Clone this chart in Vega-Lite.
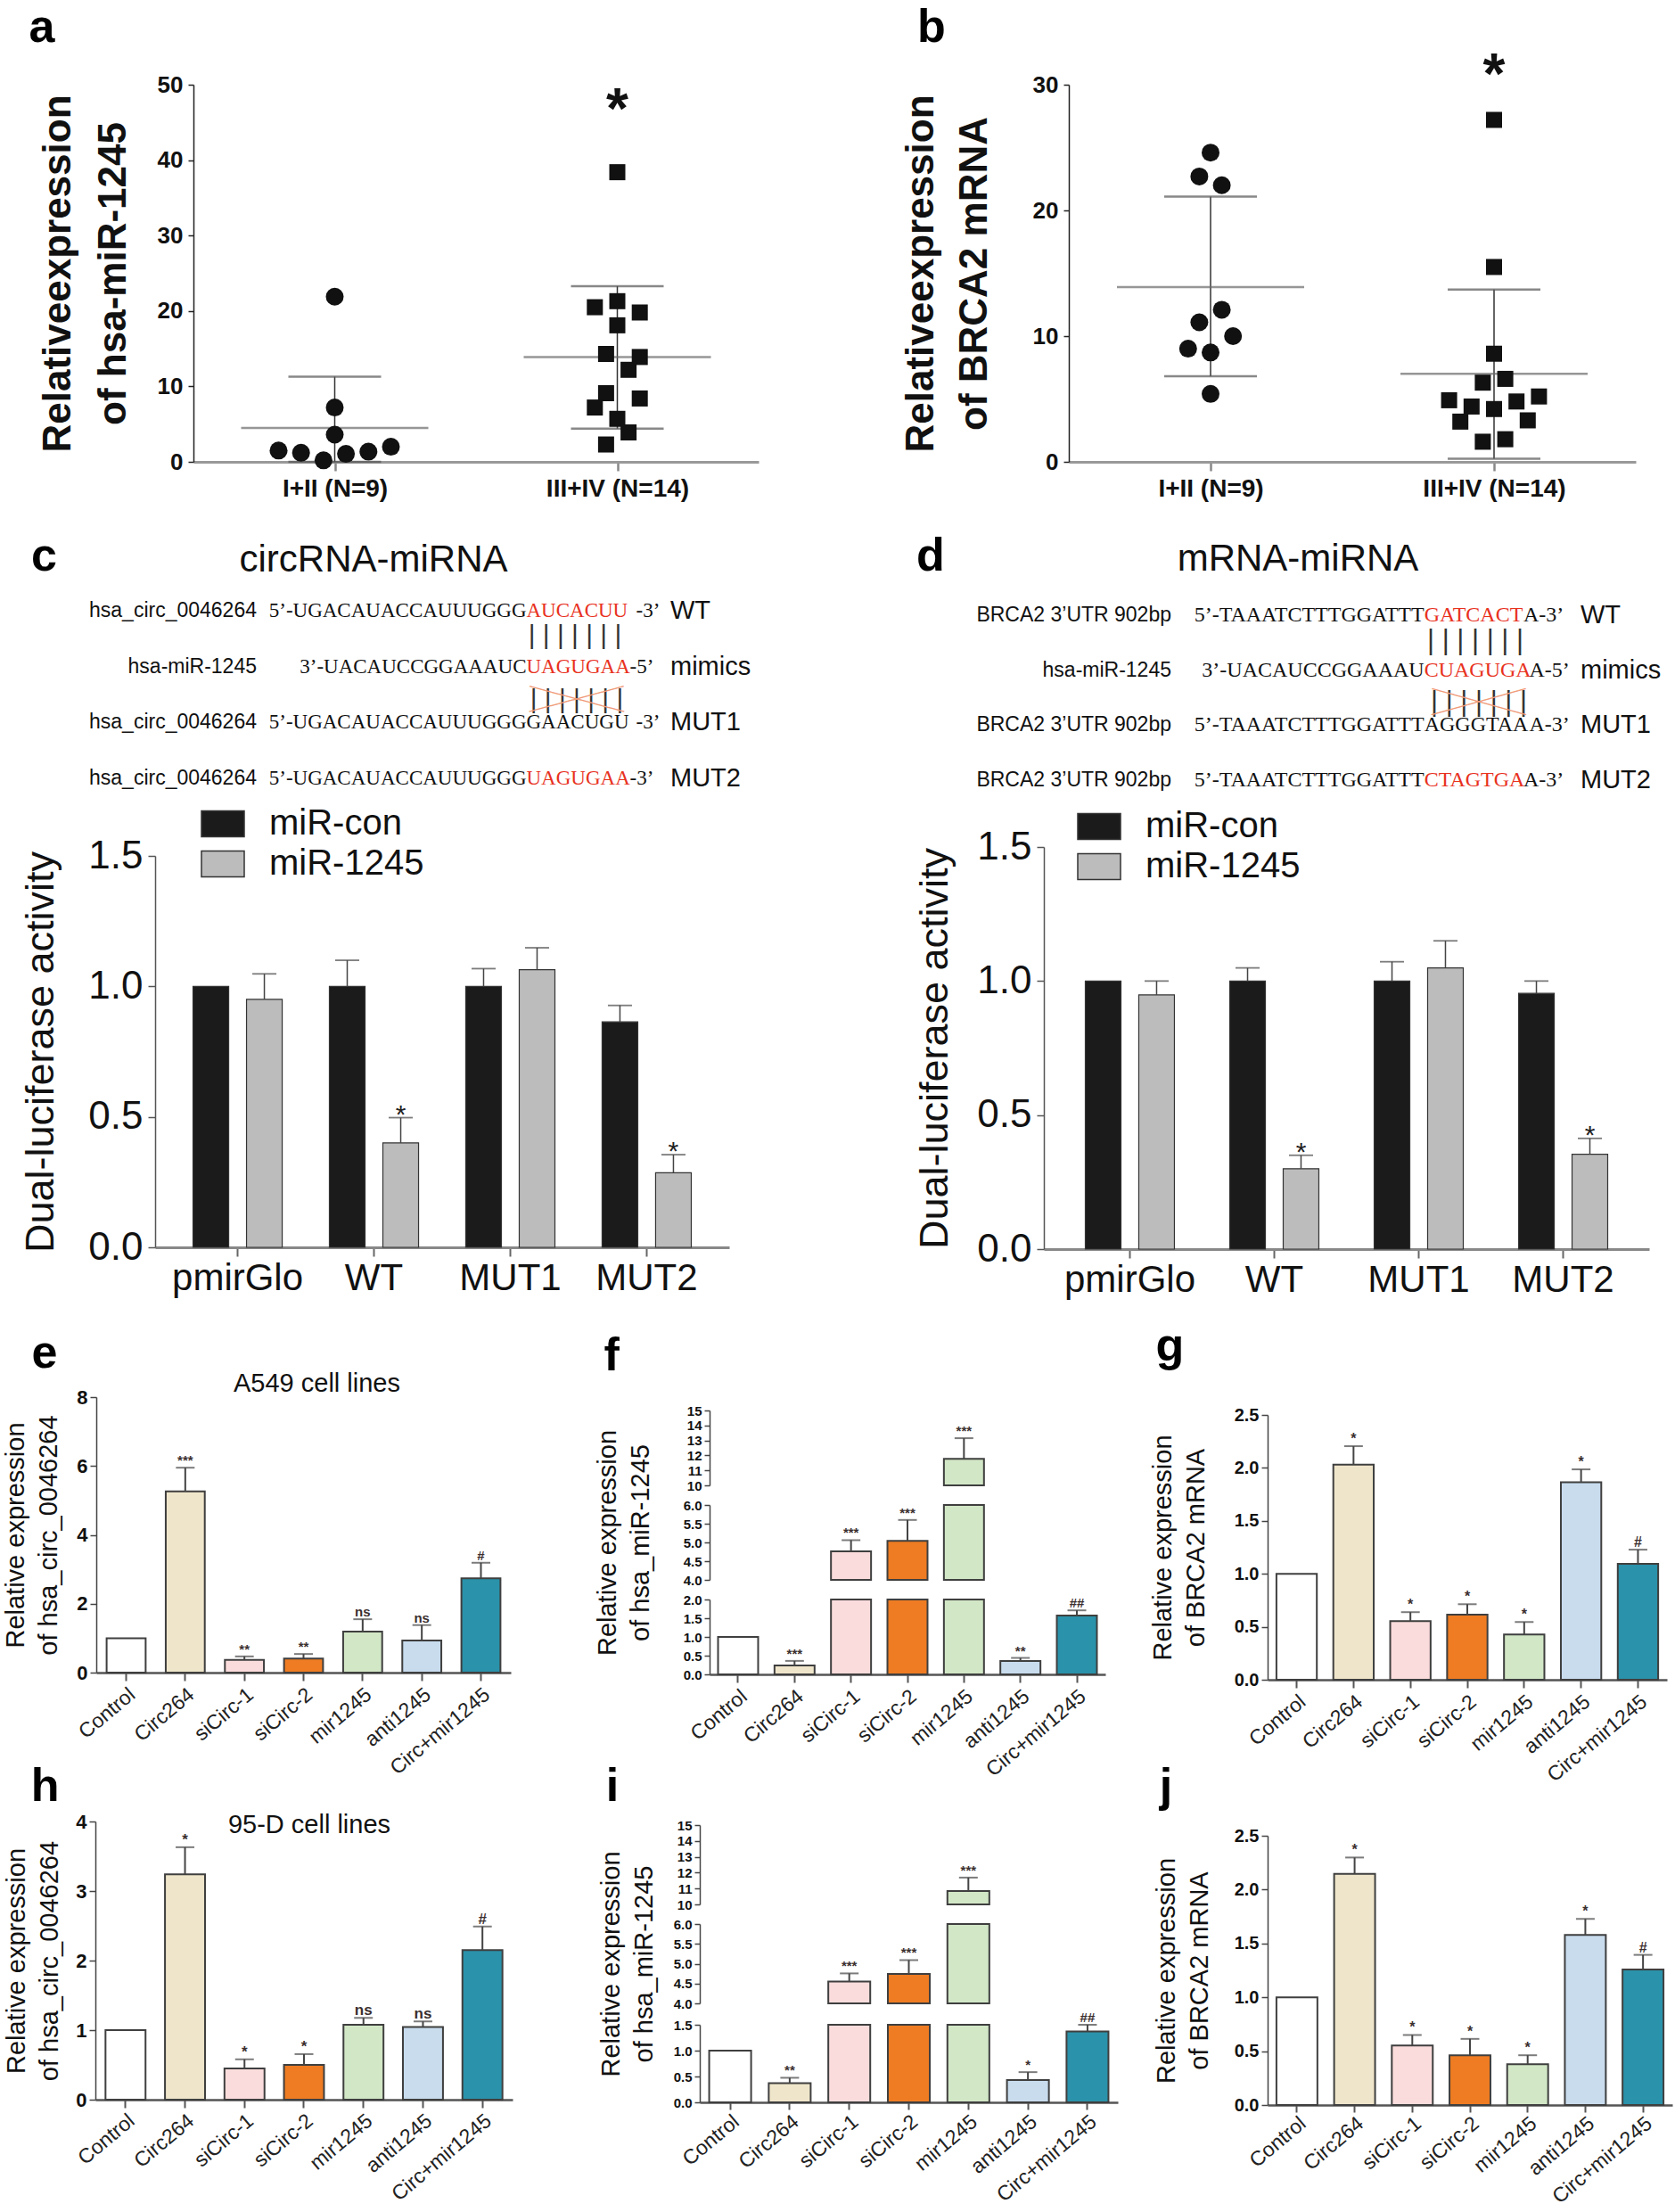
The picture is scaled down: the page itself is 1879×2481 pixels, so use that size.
{
"$schema": "https://vega.github.io/schema/vega-lite/v6.json",
"background": "white",
"padding": 0,
"autosize": {"type": "none"},
"width": 1879,
"height": 2481,
"config": {
  "view": {"stroke": null},
  "axis": {"grid": false, "labelFont": "Liberation Sans", "titleFont": "Liberation Sans", "labelColor": "#111", "titleColor": "#111"},
  "text": {"font": "Liberation Sans"},
  "legend": {"labelFont": "Liberation Sans"}
},
"datasets": {
  "a": [
    {"grp":"I+II (N=9)","dx":0,"v":21.9},{"grp":"I+II (N=9)","dx":0,"v":7.2},{"grp":"I+II (N=9)","dx":0,"v":3.6},
    {"grp":"I+II (N=9)","dx":-5,"v":1.5},{"grp":"I+II (N=9)","dx":-3,"v":1.2},{"grp":"I+II (N=9)","dx":-1,"v":0.2},
    {"grp":"I+II (N=9)","dx":1,"v":1.05},{"grp":"I+II (N=9)","dx":3,"v":1.35},{"grp":"I+II (N=9)","dx":5,"v":2.0},
    {"grp":"III+IV (N=14)","dx":0,"v":38.4},{"grp":"III+IV (N=14)","dx":-2,"v":20.5},{"grp":"III+IV (N=14)","dx":0,"v":21.3},
    {"grp":"III+IV (N=14)","dx":2,"v":19.8},{"grp":"III+IV (N=14)","dx":0,"v":18.1},{"grp":"III+IV (N=14)","dx":-1,"v":14.3},
    {"grp":"III+IV (N=14)","dx":2,"v":13.9},{"grp":"III+IV (N=14)","dx":1,"v":12.2},{"grp":"III+IV (N=14)","dx":-1,"v":9.1},
    {"grp":"III+IV (N=14)","dx":2,"v":8.4},{"grp":"III+IV (N=14)","dx":-2,"v":7.2},{"grp":"III+IV (N=14)","dx":0,"v":5.7},
    {"grp":"III+IV (N=14)","dx":1,"v":3.9},{"grp":"III+IV (N=14)","dx":-1,"v":2.3}
  ],
  "aS": [
    {"grp":"I+II (N=9)","mean":4.5,"lo":0,"hi":11.3},
    {"grp":"III+IV (N=14)","mean":13.9,"lo":4.4,"hi":23.3}
  ],
  "b": [
    {"grp":"I+II (N=9)","dx":0,"v":24.6},{"grp":"I+II (N=9)","dx":-1,"v":22.7},{"grp":"I+II (N=9)","dx":1,"v":22.0},
    {"grp":"I+II (N=9)","dx":1,"v":12.1},{"grp":"I+II (N=9)","dx":-1,"v":11.1},{"grp":"I+II (N=9)","dx":2,"v":10.0},
    {"grp":"I+II (N=9)","dx":-2,"v":9.0},{"grp":"I+II (N=9)","dx":0,"v":8.7},{"grp":"I+II (N=9)","dx":0,"v":5.4},
    {"grp":"III+IV (N=14)","dx":0,"v":27.2},{"grp":"III+IV (N=14)","dx":0,"v":15.5},{"grp":"III+IV (N=14)","dx":0,"v":8.6},
    {"grp":"III+IV (N=14)","dx":-1,"v":6.3},{"grp":"III+IV (N=14)","dx":1,"v":6.6},{"grp":"III+IV (N=14)","dx":-4,"v":4.9},
    {"grp":"III+IV (N=14)","dx":-2,"v":4.4},{"grp":"III+IV (N=14)","dx":0,"v":4.2},{"grp":"III+IV (N=14)","dx":2,"v":4.8},
    {"grp":"III+IV (N=14)","dx":4,"v":5.2},{"grp":"III+IV (N=14)","dx":-3,"v":3.2},{"grp":"III+IV (N=14)","dx":3,"v":3.3},
    {"grp":"III+IV (N=14)","dx":-1,"v":1.6},{"grp":"III+IV (N=14)","dx":1,"v":1.8}
  ],
  "bS": [
    {"grp":"I+II (N=9)","mean":13.9,"lo":6.8,"hi":21.1},
    {"grp":"III+IV (N=14)","mean":7.0,"lo":0.25,"hi":13.7}
  ],
  "c": [
    {"g":"pmirGlo","cond":"miR-con","v":1.0,"hi":1.0,"sig":""},
    {"g":"pmirGlo","cond":"miR-1245","v":0.95,"hi":1.048,"sig":""},
    {"g":"WT","cond":"miR-con","v":1.0,"hi":1.1,"sig":""},
    {"g":"WT","cond":"miR-1245","v":0.4,"hi":0.497,"sig":"*"},
    {"g":"MUT1","cond":"miR-con","v":1.0,"hi":1.068,"sig":""},
    {"g":"MUT1","cond":"miR-1245","v":1.064,"hi":1.148,"sig":""},
    {"g":"MUT2","cond":"miR-con","v":0.864,"hi":0.927,"sig":""},
    {"g":"MUT2","cond":"miR-1245","v":0.286,"hi":0.355,"sig":"*"}
  ],
  "d": [
    {"g":"pmirGlo","cond":"miR-con","v":1.0,"hi":1.0,"sig":""},
    {"g":"pmirGlo","cond":"miR-1245","v":0.948,"hi":1.0,"sig":""},
    {"g":"WT","cond":"miR-con","v":1.0,"hi":1.049,"sig":""},
    {"g":"WT","cond":"miR-1245","v":0.3,"hi":0.35,"sig":"*"},
    {"g":"MUT1","cond":"miR-con","v":1.0,"hi":1.072,"sig":""},
    {"g":"MUT1","cond":"miR-1245","v":1.049,"hi":1.15,"sig":""},
    {"g":"MUT2","cond":"miR-con","v":0.954,"hi":1.0,"sig":""},
    {"g":"MUT2","cond":"miR-1245","v":0.354,"hi":0.413,"sig":"*"}
  ],
  "seqC": [
    {"row":"WT","label":"hsa_circ_0046264","pre":"5’-UGACAUACCAUUUGGG","mid":"AUCACUU","post":"-3’","tag":"WT","kind":"seed"},
    {"row":"mimics","label":"hsa-miR-1245","pre":"3’-UACAUCCGGAAAUC","mid":"UAGUGAA","post":"-5’","tag":"mimics","kind":"seed"},
    {"row":"MUT1","label":"hsa_circ_0046264","pre":"5’-UGACAUACCAUUUGGG","mid":"GAACUGU","post":"-3’","tag":"MUT1","kind":"mutant"},
    {"row":"MUT2","label":"hsa_circ_0046264","pre":"5’-UGACAUACCAUUUGGG","mid":"UAGUGAA","post":"-3’","tag":"MUT2","kind":"seed"}
  ],
  "seqD": [
    {"row":"WT","label":"BRCA2 3’UTR 902bp","pre":"5’-TAAATCTTTGGATTT","mid":"GATCACT","post":"A-3’","tag":"WT","kind":"seed"},
    {"row":"mimics","label":"hsa-miR-1245","pre":"3’-UACAUCCGGAAAU","mid":"CUAGUGA","post":"A-5’","tag":"mimics","kind":"seed"},
    {"row":"MUT1","label":"BRCA2 3’UTR 902bp","pre":"5’-TAAATCTTTGGATTT","mid":"AGGGTAA","post":"A-3’","tag":"MUT1","kind":"mutant"},
    {"row":"MUT2","label":"BRCA2 3’UTR 902bp","pre":"5’-TAAATCTTTGGATTT","mid":"CTAGTGA","post":"A-3’","tag":"MUT2","kind":"seed"}
  ],
  "e": [
    {"g":"Control","v":1.0,"hi":1.0,"sig":""},{"g":"Circ264","v":5.26,"hi":5.95,"sig":"***"},
    {"g":"siCirc-1","v":0.37,"hi":0.47,"sig":"**"},{"g":"siCirc-2","v":0.41,"hi":0.54,"sig":"**"},
    {"g":"mir1245","v":1.19,"hi":1.55,"sig":"ns"},{"g":"anti1245","v":0.93,"hi":1.38,"sig":"ns"},
    {"g":"Circ+mir1245","v":2.74,"hi":3.19,"sig":"#"}
  ],
  "f": [
    {"g":"Control","v":1.0,"hi":1.0,"sig":""},{"g":"Circ264","v":0.24,"hi":0.36,"sig":"***"},
    {"g":"siCirc-1","v":4.76,"hi":5.06,"sig":"***"},{"g":"siCirc-2","v":5.04,"hi":5.6,"sig":"***"},
    {"g":"mir1245","v":11.77,"hi":13.15,"sig":"***"},{"g":"anti1245","v":0.36,"hi":0.44,"sig":"**"},
    {"g":"Circ+mir1245","v":1.57,"hi":1.71,"sig":"##"}
  ],
  "g": [
    {"g":"Control","v":1.0,"hi":1.0,"sig":""},{"g":"Circ264","v":2.03,"hi":2.205,"sig":"*"},
    {"g":"siCirc-1","v":0.553,"hi":0.638,"sig":"*"},{"g":"siCirc-2","v":0.615,"hi":0.713,"sig":"*"},
    {"g":"mir1245","v":0.427,"hi":0.545,"sig":"*"},{"g":"anti1245","v":1.865,"hi":1.986,"sig":"*"},
    {"g":"Circ+mir1245","v":1.095,"hi":1.228,"sig":"#"}
  ],
  "h": [
    {"g":"Control","v":1.0,"hi":1.0,"sig":""},{"g":"Circ264","v":3.24,"hi":3.63,"sig":"*"},
    {"g":"siCirc-1","v":0.45,"hi":0.58,"sig":"*"},{"g":"siCirc-2","v":0.5,"hi":0.655,"sig":"*"},
    {"g":"mir1245","v":1.078,"hi":1.176,"sig":"ns"},{"g":"anti1245","v":1.044,"hi":1.125,"sig":"ns"},
    {"g":"Circ+mir1245","v":2.15,"hi":2.49,"sig":"#"}
  ],
  "i": [
    {"g":"Control","v":1.0,"hi":1.0,"sig":""},{"g":"Circ264","v":0.37,"hi":0.475,"sig":"**"},
    {"g":"siCirc-1","v":4.55,"hi":4.755,"sig":"***"},{"g":"siCirc-2","v":4.74,"hi":5.09,"sig":"***"},
    {"g":"mir1245","v":10.84,"hi":11.69,"sig":"***"},{"g":"anti1245","v":0.43,"hi":0.584,"sig":"*"},
    {"g":"Circ+mir1245","v":1.37,"hi":1.5,"sig":"##"}
  ],
  "j": [
    {"g":"Control","v":1.0,"hi":1.0,"sig":""},{"g":"Circ264","v":2.146,"hi":2.298,"sig":"*"},
    {"g":"siCirc-1","v":0.553,"hi":0.65,"sig":"*"},{"g":"siCirc-2","v":0.462,"hi":0.614,"sig":"*"},
    {"g":"mir1245","v":0.379,"hi":0.462,"sig":"*"},{"g":"anti1245","v":1.579,"hi":1.728,"sig":"*"},
    {"g":"Circ+mir1245","v":1.258,"hi":1.394,"sig":"#"}
  ]
},
"resolve": {"scale": {"x":"independent","y":"independent","fill":"independent","shape":"independent","size":"independent","xOffset":"independent"}, "axis": {"x":"independent","y":"independent"}, "legend": {"fill":"independent"}},
"layer": [
{
  "layer": [
    {"data":{"name":"aS"},"mark":{"type":"rule","color":"#333","strokeWidth":1.5},
     "encoding":{
       "x":{"field":"grp","type":"nominal","scale":{"type":"point","domain":["I+II (N=9)","III+IV (N=14)"],"range":[217,851],"padding":0.5},
            "axis":{"orient":"bottom","offset":-1963,"title":null,"labelFontSize":28,"labelFontWeight":"bold","labelAngle":0,"labelPadding":6,"labelLimit":400,"tickSize":10,"tickWidth":2.5,"tickColor":"#888","domainColor":"#999","domainWidth":3}},
       "y":{"field":"lo","type":"quantitative","scale":{"domain":[0,50],"range":[518,95],"nice":false},
            "axis":{"orient":"left","offset":-217,"title":["Relativeexpression","of hsa-miR-1245"],"titleFontSize":44,"titleFontWeight":"bold","titleLineHeight":62,"titlePadding":24,"minExtent":44,"maxExtent":44,"values":[0,10,20,30,40,50],"format":"d","labelFontSize":26,"labelFontWeight":"bold","labelPadding":6,"tickSize":6,"tickWidth":1.5,"tickColor":"#222","domainColor":"#222","domainWidth":1.5}},
       "y2":{"field":"hi"}}},
    {"data":{"name":"aS"},"mark":{"type":"tick","color":"#555","size":104,"thickness":2.5},"encoding":{"x":{"field":"grp","type":"nominal"},"y":{"field":"lo","type":"quantitative"}}},
    {"data":{"name":"aS"},"mark":{"type":"tick","color":"#555","size":104,"thickness":2.5},"encoding":{"x":{"field":"grp","type":"nominal"},"y":{"field":"hi","type":"quantitative"}}},
    {"data":{"name":"aS"},"mark":{"type":"tick","color":"#6a6a6a","size":210,"thickness":2.5},"encoding":{"x":{"field":"grp","type":"nominal"},"y":{"field":"mean","type":"quantitative"}}},
    {"data":{"name":"a"},"mark":{"type":"point","filled":true,"opacity":1,"color":"#111"},
     "encoding":{"x":{"field":"grp","type":"nominal"},
       "xOffset":{"field":"dx","type":"quantitative","scale":{"domain":[-5,5],"range":[-63,63]}},
       "y":{"field":"v","type":"quantitative"},
       "shape":{"field":"grp","type":"nominal","scale":{"domain":["I+II (N=9)","III+IV (N=14)"],"range":["circle","square"]},"legend":null},
       "size":{"field":"grp","type":"nominal","scale":{"domain":["I+II (N=9)","III+IV (N=14)"],"range":[400,324]},"legend":null}}},
    {"data":{"values":[{"s":"*"}]},"mark":{"type":"text","fontSize":64,"fontWeight":"bold","baseline":"alphabetic","color":"#111"},
     "encoding":{"x":{"datum":"III+IV (N=14)","type":"nominal"},"y":{"datum":44.2,"type":"quantitative"},"text":{"field":"s"}}},
    {"data":{"values":[{"s":"a"}]},"mark":{"type":"text","fontSize":52,"fontWeight":"bold","align":"left","baseline":"alphabetic","dx":-343,"dy":-48,"color":"#000"},
     "encoding":{"x":{"datum":"I+II (N=9)","type":"nominal"},"y":{"datum":50,"type":"quantitative"},"text":{"field":"s"}}}
  ]
},
{
  "layer": [
    {"data":{"name":"bS"},"mark":{"type":"rule","color":"#333","strokeWidth":1.5},
     "encoding":{
       "x":{"field":"grp","type":"nominal","scale":{"type":"point","domain":["I+II (N=9)","III+IV (N=14)"],"range":[1199,1835],"padding":0.5},
            "axis":{"orient":"bottom","offset":-1963,"title":null,"labelFontSize":28,"labelFontWeight":"bold","labelAngle":0,"labelPadding":6,"labelLimit":400,"tickSize":10,"tickWidth":2.5,"tickColor":"#888","domainColor":"#999","domainWidth":3}},
       "y":{"field":"lo","type":"quantitative","scale":{"domain":[0,30],"range":[518,95],"nice":false},
            "axis":{"orient":"left","offset":-1199,"title":["Relativeexpression","of BRCA2 mRNA"],"titleFontSize":44,"titleFontWeight":"bold","titleLineHeight":60,"titlePadding":40,"minExtent":44,"maxExtent":44,"values":[0,10,20,30],"format":"d","labelFontSize":26,"labelFontWeight":"bold","labelPadding":6,"tickSize":6,"tickWidth":1.5,"tickColor":"#222","domainColor":"#222","domainWidth":1.5}},
       "y2":{"field":"hi"}}},
    {"data":{"name":"bS"},"mark":{"type":"tick","color":"#555","size":104,"thickness":2.5},"encoding":{"x":{"field":"grp","type":"nominal"},"y":{"field":"lo","type":"quantitative"}}},
    {"data":{"name":"bS"},"mark":{"type":"tick","color":"#555","size":104,"thickness":2.5},"encoding":{"x":{"field":"grp","type":"nominal"},"y":{"field":"hi","type":"quantitative"}}},
    {"data":{"name":"bS"},"mark":{"type":"tick","color":"#6a6a6a","size":210,"thickness":2.5},"encoding":{"x":{"field":"grp","type":"nominal"},"y":{"field":"mean","type":"quantitative"}}},
    {"data":{"name":"b"},"mark":{"type":"point","filled":true,"opacity":1,"color":"#111"},
     "encoding":{"x":{"field":"grp","type":"nominal"},
       "xOffset":{"field":"dx","type":"quantitative","scale":{"domain":[-5,5],"range":[-63,63]}},
       "y":{"field":"v","type":"quantitative"},
       "shape":{"field":"grp","type":"nominal","scale":{"domain":["I+II (N=9)","III+IV (N=14)"],"range":["circle","square"]},"legend":null},
       "size":{"field":"grp","type":"nominal","scale":{"domain":["I+II (N=9)","III+IV (N=14)"],"range":[400,324]},"legend":null}}},
    {"data":{"values":[{"s":"*"}]},"mark":{"type":"text","fontSize":64,"fontWeight":"bold","baseline":"alphabetic","color":"#111"},
     "encoding":{"x":{"datum":"III+IV (N=14)","type":"nominal"},"y":{"datum":29.3,"type":"quantitative"},"text":{"field":"s"}}},
    {"data":{"values":[{"s":"b"}]},"mark":{"type":"text","fontSize":52,"fontWeight":"bold","align":"left","baseline":"alphabetic","dx":-329,"dy":-48,"color":"#000"},
     "encoding":{"x":{"datum":"I+II (N=9)","type":"nominal"},"y":{"datum":30,"type":"quantitative"},"text":{"field":"s"}}}
  ]
},
{
  "resolve": {"scale": {"y":"independent"}, "axis": {"y":"independent"}},
  "layer": [
    {
      "data": {"name":"c"},
      "encoding": {
        "x":{"field":"g","type":"nominal","scale":{"domain":["pmirGlo","WT","MUT1","MUT2"],"range":[174,818],"paddingInner":0.346,"paddingOuter":0.278},
             "axis":{"orient":"bottom","offset":-1082,"title":null,"labelAngle":0,"labelFontSize":42,"labelPadding":4,"labelOverlap":false,"labelLimit":400,"tickSize":10,"tickWidth":2,"tickColor":"#666","domainColor":"#888","domainWidth":3}},
        "xOffset":{"field":"cond","type":"nominal","scale":{"domain":["miR-con","miR-1245"],"paddingInner":0.333,"paddingOuter":0}},
        "y":{"field":"v","type":"quantitative","scale":{"domain":[0,1.5],"range":[1399,960],"nice":false},
             "axis":{"orient":"left","offset":-174,"title":"Dual-luciferase activity","titleFontSize":45,"titleFontWeight":"normal","titlePadding":26,"minExtent":80,"maxExtent":80,"values":[0,0.5,1,1.5],"format":".1f","labelFontSize":44,"labelPadding":6,"tickSize":8,"tickWidth":1.5,"tickColor":"#555","domainColor":"#555","domainWidth":1.5}}
      },
      "layer": [
        {"mark":{"type":"bar","stroke":"#333","strokeWidth":1.2},
         "encoding":{"fill":{"field":"cond","type":"nominal","scale":{"domain":["miR-con","miR-1245"],"range":["#1b1b1b","#bcbcbc"]},
           "legend":{"title":null,"orient":"none","legendX":225,"legendY":899,"symbolType":"M-1,-0.6H1V0.6H-1Z","symbolSize":2304,"symbolStrokeColor":"#333","symbolStrokeWidth":1.5,"symbolOpacity":1,"labelFontSize":40,"labelLimit":400,"labelOffset":27,"rowPadding":0,"padding":0,"labelColor":"#111"}}}},
        {"transform":[{"filter":"datum.hi > datum.v"}],"mark":{"type":"rule","color":"#444","strokeWidth":1.5},"encoding":{"y2":{"field":"hi"}}},
        {"transform":[{"filter":"datum.hi > datum.v"}],"mark":{"type":"tick","color":"#444","size":27,"thickness":1.8},"encoding":{"y":{"field":"hi","type":"quantitative"}}},
        {"mark":{"type":"text","fontSize":30,"baseline":"alphabetic","dy":6,"color":"#222"},"encoding":{"y":{"field":"hi","type":"quantitative"},"text":{"field":"sig"}}}
      ]
    },
    {
      "data": {"name":"seqC"},
      "encoding": {"y":{"field":"row","type":"nominal","scale":{"type":"point","domain":["WT","mimics","MUT1","MUT2"],"range":[685,873],"padding":0},"axis":null}},
      "layer": [
        {"mark":{"type":"text","align":"right","baseline":"middle","dx":-651.5,"fontSize":23,"color":"#111"},"encoding":{"text":{"field":"label"}}},
        {"mark":{"type":"text","align":"right","baseline":"middle","dx":-349,"fontSize":23,"font":"Liberation Serif","color":"#111"},"encoding":{"text":{"field":"pre"}}},
        {"mark":{"type":"text","align":"left","baseline":"middle","dx":-349,"fontSize":23,"font":"Liberation Serif"},"encoding":{"text":{"field":"mid"},"color":{"field":"kind","type":"nominal","scale":{"domain":["seed","mutant"],"range":["#e8321e","#111111"]},"legend":null}}},
        {"transform":[{"filter":"datum.row == 'WT' || datum.row == 'MUT1'"}],"mark":{"type":"text","align":"left","baseline":"middle","dx":-226,"fontSize":23,"font":"Liberation Serif","color":"#111"},"encoding":{"text":{"field":"post"}}},
        {"transform":[{"filter":"datum.row == 'mimics' || datum.row == 'MUT2'"}],"mark":{"type":"text","align":"left","baseline":"middle","dx":-233,"fontSize":23,"font":"Liberation Serif","color":"#111"},"encoding":{"text":{"field":"post"}}},
        {"mark":{"type":"text","align":"left","baseline":"middle","dx":-187.5,"fontSize":29,"color":"#111"},"encoding":{"text":{"field":"tag"}}},
        {"data":{"values":[{"t":"circRNA-miRNA"}]},"mark":{"type":"text","align":"center","baseline":"middle","dx":-520.5,"dy":-57,"fontSize":42,"color":"#111"},"encoding":{"y":{"datum":"WT","type":"nominal"},"text":{"field":"t"}}},
        {"data":{"values":[{"t":"c"}]},"mark":{"type":"text","align":"left","baseline":"alphabetic","dx":-904.5,"dy":-45,"fontSize":52,"fontWeight":"bold","color":"#000"},"encoding":{"y":{"datum":"WT","type":"nominal"},"text":{"field":"t"}}},
        {"data":{"values":[{"t":"| | | | | | |"}]},"mark":{"type":"text","align":"center","baseline":"middle","dx":-294.5,"dy":28,"fontSize":30,"color":"#333"},"encoding":{"y":{"datum":"WT","type":"nominal"},"text":{"field":"t"}}},
        {"data":{"values":[{"t":"| | | | | | |"}]},"mark":{"type":"text","align":"center","baseline":"middle","dx":-292.5,"dy":37,"fontSize":30,"color":"#333"},"encoding":{"y":{"datum":"mimics","type":"nominal"},"text":{"field":"t"}}},
        {"data":{"values":[{"t":"─────────────"}]},"mark":{"type":"text","align":"center","baseline":"middle","dx":-272.95,"dy":111.44,"fontSize":14,"font":"DejaVu Sans Mono","angle":15,"color":"#f09a78"},"encoding":{"y":{"datum":"mimics","type":"nominal"},"text":{"field":"t"}}},
        {"data":{"values":[{"t":"─────────────"}]},"mark":{"type":"text","align":"center","baseline":"middle","dx":-292.11,"dy":-39.96,"fontSize":14,"font":"DejaVu Sans Mono","angle":345,"color":"#f09a78"},"encoding":{"y":{"datum":"mimics","type":"nominal"},"text":{"field":"t"}}}
      ]
    }
  ]
},
{
  "resolve": {"scale": {"y":"independent"}, "axis": {"y":"independent"}},
  "layer": [
    {
      "data": {"name":"d"},
      "encoding": {
        "x":{"field":"g","type":"nominal","scale":{"domain":["pmirGlo","WT","MUT1","MUT2"],"range":[1171,1850],"paddingInner":0.383,"paddingOuter":0.287},
             "axis":{"orient":"bottom","offset":-1080,"title":null,"labelAngle":0,"labelFontSize":42,"labelPadding":4,"labelOverlap":false,"labelLimit":400,"tickSize":10,"tickWidth":2,"tickColor":"#666","domainColor":"#888","domainWidth":3}},
        "xOffset":{"field":"cond","type":"nominal","scale":{"domain":["miR-con","miR-1245"],"paddingInner":0.333,"paddingOuter":0}},
        "y":{"field":"v","type":"quantitative","scale":{"domain":[0,1.5],"range":[1401,950],"nice":false},
             "axis":{"orient":"left","offset":-1171,"title":"Dual-luciferase activity","titleFontSize":45,"titleFontWeight":"normal","titlePadding":20,"minExtent":80,"maxExtent":80,"values":[0,0.5,1,1.5],"format":".1f","labelFontSize":44,"labelPadding":6,"tickSize":8,"tickWidth":1.5,"tickColor":"#555","domainColor":"#555","domainWidth":1.5}}
      },
      "layer": [
        {"mark":{"type":"bar","stroke":"#333","strokeWidth":1.2},
         "encoding":{"fill":{"field":"cond","type":"nominal","scale":{"domain":["miR-con","miR-1245"],"range":["#1b1b1b","#bcbcbc"]},
           "legend":{"title":null,"orient":"none","legendX":1208,"legendY":902,"symbolType":"M-1,-0.6H1V0.6H-1Z","symbolSize":2304,"symbolStrokeColor":"#333","symbolStrokeWidth":1.5,"symbolOpacity":1,"labelFontSize":40,"labelLimit":400,"labelOffset":27,"rowPadding":0,"padding":0,"labelColor":"#111"}}}},
        {"transform":[{"filter":"datum.hi > datum.v"}],"mark":{"type":"rule","color":"#444","strokeWidth":1.5},"encoding":{"y2":{"field":"hi"}}},
        {"transform":[{"filter":"datum.hi > datum.v"}],"mark":{"type":"tick","color":"#444","size":27,"thickness":1.8},"encoding":{"y":{"field":"hi","type":"quantitative"}}},
        {"mark":{"type":"text","fontSize":30,"baseline":"alphabetic","dy":6,"color":"#222"},"encoding":{"y":{"field":"hi","type":"quantitative"},"text":{"field":"sig"}}}
      ]
    },
    {
      "data": {"name":"seqD"},
      "encoding": {"y":{"field":"row","type":"nominal","scale":{"type":"point","domain":["WT","mimics","MUT1","MUT2"],"range":[690,875],"padding":0},"axis":null}},
      "layer": [
        {"mark":{"type":"text","align":"right","baseline":"middle","dx":374.5,"fontSize":23,"color":"#111"},"encoding":{"text":{"field":"label"}}},
        {"mark":{"type":"text","align":"right","baseline":"middle","dx":658.2,"fontSize":24,"font":"Liberation Serif","color":"#111"},"encoding":{"text":{"field":"pre"}}},
        {"mark":{"type":"text","align":"left","baseline":"middle","dx":658.2,"fontSize":24,"font":"Liberation Serif"},"encoding":{"text":{"field":"mid"},"color":{"field":"kind","type":"nominal","scale":{"domain":["seed","mutant"],"range":["#e8321e","#111111"]},"legend":null}}},
        {"transform":[{"filter":"datum.row == 'WT' || datum.row == 'MUT2'"}],"mark":{"type":"text","align":"left","baseline":"middle","dx":769.5,"fontSize":24,"font":"Liberation Serif","color":"#111"},"encoding":{"text":{"field":"post"}}},
        {"transform":[{"filter":"datum.row == 'mimics' || datum.row == 'MUT1'"}],"mark":{"type":"text","align":"left","baseline":"middle","dx":776,"fontSize":24,"font":"Liberation Serif","color":"#111"},"encoding":{"text":{"field":"post"}}},
        {"mark":{"type":"text","align":"left","baseline":"middle","dx":833.5,"fontSize":29,"color":"#111"},"encoding":{"text":{"field":"tag"}}},
        {"data":{"values":[{"t":"mRNA-miRNA"}]},"mark":{"type":"text","align":"center","baseline":"middle","dx":516.5,"dy":-63,"fontSize":42,"color":"#111"},"encoding":{"y":{"datum":"WT","type":"nominal"},"text":{"field":"t"}}},
        {"data":{"values":[{"t":"d"}]},"mark":{"type":"text","align":"left","baseline":"alphabetic","dx":88.5,"dy":-50,"fontSize":52,"fontWeight":"bold","color":"#000"},"encoding":{"y":{"datum":"WT","type":"nominal"},"text":{"field":"t"}}},
        {"data":{"values":[{"t":"| | | | | | |"}]},"mark":{"type":"text","align":"center","baseline":"middle","dx":715.5,"dy":29,"fontSize":31,"color":"#333"},"encoding":{"y":{"datum":"WT","type":"nominal"},"text":{"field":"t"}}},
        {"data":{"values":[{"t":"| | | | | | |"}]},"mark":{"type":"text","align":"center","baseline":"middle","dx":719.5,"dy":36,"fontSize":31,"color":"#333"},"encoding":{"y":{"datum":"mimics","type":"nominal"},"text":{"field":"t"}}},
        {"data":{"values":[{"t":"─────────────"}]},"mark":{"type":"text","align":"center","baseline":"middle","dx":702.95,"dy":-157.59,"fontSize":14,"font":"DejaVu Sans Mono","angle":15.5,"color":"#f09a78"},"encoding":{"y":{"datum":"mimics","type":"nominal"},"text":{"field":"t"}}},
        {"data":{"values":[{"t":"─────────────"}]},"mark":{"type":"text","align":"center","baseline":"middle","dx":683.71,"dy":226.97,"fontSize":14,"font":"DejaVu Sans Mono","angle":344.5,"color":"#f09a78"},"encoding":{"y":{"datum":"mimics","type":"nominal"},"text":{"field":"t"}}}
      ]
    }
  ]
},
{
  "layer": [
    {
      "data": {"name":"e"},
      "encoding": {
        "x":{"field":"g","type":"nominal","scale":{"domain":["Control","Circ264","siCirc-1","siCirc-2","mir1245","anti1245","Circ+mir1245"],"range":[108,573],"paddingInner":0.34,"paddingOuter":0.175},
             "axis":{"orient":"bottom","offset":-605,"title":null,"labelAngle":-40,"labelAlign":"right","labelBaseline":"top","labelFontSize":23,"labelPadding":4,"labelOverlap":false,"labelLimit":400,"tickSize":9,"tickWidth":2,"tickColor":"#555","domainColor":"#555","domainWidth":2.5,"labelColor":"#222"}},
        "y":{"field":"v","type":"quantitative","scale":{"domain":[0,8],"range":[1876,1567],"nice":false},
             "axis":{"orient":"left","offset":-108,"title":["Relative expression","of hsa_circ_0046264"],"titleFontSize":29,"titleFontWeight":"normal","titleLineHeight":37,"titlePadding":9,"minExtent":30,"maxExtent":30,"values":[0,2,4,6,8],"format":"d","labelFontSize":22,"labelFontWeight":"bold","labelPadding":3,"tickSize":7,"tickWidth":1.5,"tickColor":"#444","domainColor":"#444","domainWidth":1.5}}
      },
      "layer": [
        {"mark":{"type":"bar","stroke":"#3f3f3f","strokeWidth":2},"encoding":{"fill":{"field":"g","type":"nominal","scale":{"domain":["Control","Circ264","siCirc-1","siCirc-2","mir1245","anti1245","Circ+mir1245"],"range":["#ffffff","#efe5ca","#fbdcdc","#ef7c22","#d2e7c6","#c8dcee","#2a92aa"]},"legend":null}}},
        {"transform":[{"filter":"datum.hi > datum.v"}],"mark":{"type":"rule","color":"#444","strokeWidth":2},"encoding":{"y2":{"field":"hi"}}},
        {"transform":[{"filter":"datum.hi > datum.v"}],"mark":{"type":"tick","color":"#444","size":21,"thickness":2},"encoding":{"y":{"field":"hi","type":"quantitative"}}},
        {"mark":{"type":"text","baseline":"alphabetic","dy":-3,"fontSize":15,"fontWeight":"bold","color":"#3b2f2f"},"encoding":{"y":{"field":"hi","type":"quantitative"},"text":{"field":"sig"}}}
      ]
    },
    {"data":{"values":[{"t":"A549 cell lines"}]},"mark":{"type":"text","fontSize":29,"baseline":"middle","dx":15,"dy":-15,"color":"#111"},
     "encoding":{"x":{"datum":"siCirc-2","type":"nominal"},"y":{"datum":8,"type":"quantitative"},"text":{"field":"t"}}},
    {"data":{"values":[{"t":"e"}]},"mark":{"type":"text","fontSize":52,"fontWeight":"bold","align":"left","baseline":"alphabetic","dx":-106,"dy":-33,"color":"#000"},
     "encoding":{"x":{"datum":"Control","type":"nominal"},"y":{"datum":8,"type":"quantitative"},"text":{"field":"t"}}},
    {"data":{"values":[{"t":"f"}]},"mark":{"type":"text","fontSize":52,"fontWeight":"bold","align":"left","baseline":"alphabetic","dx":536,"dy":-30,"color":"#000"},
     "encoding":{"x":{"datum":"Control","type":"nominal"},"y":{"datum":8,"type":"quantitative"},"text":{"field":"t"}}}
  ]
},
{
  "data": {"name":"f"},
  "encoding": {
    "x":{"field":"g","type":"nominal","scale":{"domain":["Control","Circ264","siCirc-1","siCirc-2","mir1245","anti1245","Circ+mir1245"],"range":[796,1240],"paddingInner":0.29,"paddingOuter":0.15},
         "axis":{"orient":"bottom","offset":-603,"title":null,"labelAngle":-40,"labelAlign":"right","labelBaseline":"top","labelFontSize":23,"labelPadding":4,"labelOverlap":false,"labelLimit":400,"tickSize":9,"tickWidth":2,"tickColor":"#555","domainColor":"#555","domainWidth":2.5,"labelColor":"#222"}}
  },
  "resolve": {"scale": {"y":"independent"}, "axis": {"y":"independent"}},
  "layer": [
    {
      "encoding": {
        "y":{"field":"v","type":"quantitative","scale":{"domain":[10,15],"range":[1666,1582],"nice":false,"zero":false,"clamp":true},
             "axis":{"orient":"left","offset":-796,"title":null,"minExtent":30,"maxExtent":30,"values":[10,11,12,13,14,15],"format":"d","labelFontSize":15,"labelFontWeight":"bold","labelPadding":3,"tickSize":6,"tickWidth":1.5,"tickColor":"#444","domainColor":"#444","domainWidth":1.5}}
      },
      "layer": [
        {"transform":[{"filter":"datum.v > 10"}],"mark":{"type":"bar","stroke":"#3f3f3f","strokeWidth":2},"encoding":{"fill":{"field":"g","type":"nominal","scale":{"domain":["Control","Circ264","siCirc-1","siCirc-2","mir1245","anti1245","Circ+mir1245"],"range":["#ffffff","#efe5ca","#fbdcdc","#ef7c22","#d2e7c6","#c8dcee","#2a92aa"]},"legend":null}}},
        {"transform":[{"filter":"datum.v > 10"}],"mark":{"type":"rule","color":"#444","strokeWidth":2},"encoding":{"y2":{"field":"hi"}}},
        {"transform":[{"filter":"datum.v > 10"}],"mark":{"type":"tick","color":"#444","size":21,"thickness":2},"encoding":{"y":{"field":"hi","type":"quantitative"}}},
        {"transform":[{"filter":"datum.v > 10"}],"mark":{"type":"text","baseline":"alphabetic","dy":-3,"fontSize":15,"fontWeight":"bold","color":"#3b2f2f"},"encoding":{"y":{"field":"hi","type":"quantitative"},"text":{"field":"sig"}}}
      ]
    },
    {
      "encoding": {
        "y":{"field":"v","type":"quantitative","scale":{"domain":[4,6],"range":[1772,1688],"nice":false,"zero":false,"clamp":true},
             "axis":{"orient":"left","offset":-796,"title":["Relative expression","of hsa_miR-1245"],"titleFontSize":29,"titleFontWeight":"normal","titleLineHeight":37,"titlePadding":33,"minExtent":30,"maxExtent":30,"values":[4,4.5,5,5.5,6],"format":".1f","labelFontSize":15,"labelFontWeight":"bold","labelPadding":3,"tickSize":6,"tickWidth":1.5,"tickColor":"#444","domainColor":"#444","domainWidth":1.5}}
      },
      "layer": [
        {"transform":[{"filter":"datum.v > 4"}],"mark":{"type":"bar","stroke":"#3f3f3f","strokeWidth":2},"encoding":{"fill":{"field":"g","type":"nominal","scale":{"domain":["Control","Circ264","siCirc-1","siCirc-2","mir1245","anti1245","Circ+mir1245"],"range":["#ffffff","#efe5ca","#fbdcdc","#ef7c22","#d2e7c6","#c8dcee","#2a92aa"]},"legend":null}}},
        {"transform":[{"filter":"datum.v > 4 && datum.v <= 6"}],"mark":{"type":"rule","color":"#444","strokeWidth":2},"encoding":{"y2":{"field":"hi"}}},
        {"transform":[{"filter":"datum.v > 4 && datum.v <= 6"}],"mark":{"type":"tick","color":"#444","size":21,"thickness":2},"encoding":{"y":{"field":"hi","type":"quantitative"}}},
        {"transform":[{"filter":"datum.v > 4 && datum.v <= 6"}],"mark":{"type":"text","baseline":"alphabetic","dy":-3,"fontSize":15,"fontWeight":"bold","color":"#3b2f2f"},"encoding":{"y":{"field":"hi","type":"quantitative"},"text":{"field":"sig"}}}
      ]
    },
    {
      "encoding": {
        "y":{"field":"v","type":"quantitative","scale":{"domain":[0,2],"range":[1878,1794],"nice":false,"clamp":true},
             "axis":{"orient":"left","offset":-796,"title":null,"minExtent":30,"maxExtent":30,"values":[0,0.5,1,1.5,2],"format":".1f","labelFontSize":15,"labelFontWeight":"bold","labelPadding":3,"tickSize":6,"tickWidth":1.5,"tickColor":"#444","domainColor":"#444","domainWidth":1.5}}
      },
      "layer": [
        {"mark":{"type":"bar","stroke":"#3f3f3f","strokeWidth":2},"encoding":{"fill":{"field":"g","type":"nominal","scale":{"domain":["Control","Circ264","siCirc-1","siCirc-2","mir1245","anti1245","Circ+mir1245"],"range":["#ffffff","#efe5ca","#fbdcdc","#ef7c22","#d2e7c6","#c8dcee","#2a92aa"]},"legend":null}}},
        {"transform":[{"filter":"datum.v <= 2 && datum.hi > datum.v"}],"mark":{"type":"rule","color":"#444","strokeWidth":2},"encoding":{"y2":{"field":"hi"}}},
        {"transform":[{"filter":"datum.v <= 2 && datum.hi > datum.v"}],"mark":{"type":"tick","color":"#444","size":21,"thickness":2},"encoding":{"y":{"field":"hi","type":"quantitative"}}},
        {"transform":[{"filter":"datum.v <= 2"}],"mark":{"type":"text","baseline":"alphabetic","dy":-3,"fontSize":15,"fontWeight":"bold","color":"#3b2f2f"},"encoding":{"y":{"field":"hi","type":"quantitative"},"text":{"field":"sig"}}}
      ]
    }
  ]
},
{
  "layer": [
    {
      "data": {"name":"g"},
      "encoding": {
        "x":{"field":"g","type":"nominal","scale":{"domain":["Control","Circ264","siCirc-1","siCirc-2","mir1245","anti1245","Circ+mir1245"],"range":[1422,1870],"paddingInner":0.29,"paddingOuter":0.155},
             "axis":{"orient":"bottom","offset":-597,"title":null,"labelAngle":-40,"labelAlign":"right","labelBaseline":"top","labelFontSize":23,"labelPadding":4,"labelOverlap":false,"labelLimit":400,"tickSize":9,"tickWidth":2,"tickColor":"#555","domainColor":"#555","domainWidth":2.5,"labelColor":"#222"}},
        "y":{"field":"v","type":"quantitative","scale":{"domain":[0,2.5],"range":[1884,1587],"nice":false},
             "axis":{"orient":"left","offset":-1422,"title":["Relative expression","of BRCA2 mRNA"],"titleFontSize":29,"titleFontWeight":"normal","titleLineHeight":37,"titlePadding":26,"minExtent":40,"maxExtent":40,"values":[0,0.5,1,1.5,2,2.5],"format":".1f","labelFontSize":20,"labelFontWeight":"bold","labelPadding":3,"tickSize":7,"tickWidth":1.5,"tickColor":"#444","domainColor":"#444","domainWidth":1.5}}
      },
      "layer": [
        {"mark":{"type":"bar","stroke":"#3f3f3f","strokeWidth":2},"encoding":{"fill":{"field":"g","type":"nominal","scale":{"domain":["Control","Circ264","siCirc-1","siCirc-2","mir1245","anti1245","Circ+mir1245"],"range":["#ffffff","#efe5ca","#fbdcdc","#ef7c22","#d2e7c6","#c8dcee","#2a92aa"]},"legend":null}}},
        {"transform":[{"filter":"datum.hi > datum.v"}],"mark":{"type":"rule","color":"#444","strokeWidth":2},"encoding":{"y2":{"field":"hi"}}},
        {"transform":[{"filter":"datum.hi > datum.v"}],"mark":{"type":"tick","color":"#444","size":21,"thickness":2},"encoding":{"y":{"field":"hi","type":"quantitative"}}},
        {"mark":{"type":"text","baseline":"alphabetic","dy":-3,"fontSize":16,"fontWeight":"bold","color":"#3b2f2f"},"encoding":{"y":{"field":"hi","type":"quantitative"},"text":{"field":"sig"}}}
      ]
    },
    {"data":{"values":[{"t":"g"}]},"mark":{"type":"text","fontSize":52,"fontWeight":"bold","align":"left","baseline":"alphabetic","dx":-158,"dy":-61,"color":"#000"},
     "encoding":{"x":{"datum":"Control","type":"nominal"},"y":{"datum":2.5,"type":"quantitative"},"text":{"field":"t"}}}
  ]
},
{
  "layer": [
    {
      "data": {"name":"h"},
      "encoding": {
        "x":{"field":"g","type":"nominal","scale":{"domain":["Control","Circ264","siCirc-1","siCirc-2","mir1245","anti1245","Circ+mir1245"],"range":[107,575],"paddingInner":0.327,"paddingOuter":0.17},
             "axis":{"orient":"bottom","offset":-126,"title":null,"labelAngle":-40,"labelAlign":"right","labelBaseline":"top","labelFontSize":23,"labelPadding":3,"labelOverlap":false,"labelLimit":400,"tickSize":9,"tickWidth":2,"tickColor":"#555","domainColor":"#555","domainWidth":2.5,"labelColor":"#222"}},
        "y":{"field":"v","type":"quantitative","scale":{"domain":[0,4],"range":[2355,2043],"nice":false},
             "axis":{"orient":"left","offset":-107,"title":["Relative expression","of hsa_circ_0046264"],"titleFontSize":29,"titleFontWeight":"normal","titleLineHeight":37,"titlePadding":7,"minExtent":30,"maxExtent":30,"values":[0,1,2,3,4],"format":"d","labelFontSize":22,"labelFontWeight":"bold","labelPadding":3,"tickSize":7,"tickWidth":1.5,"tickColor":"#444","domainColor":"#444","domainWidth":1.5}}
      },
      "layer": [
        {"mark":{"type":"bar","stroke":"#3f3f3f","strokeWidth":2},"encoding":{"fill":{"field":"g","type":"nominal","scale":{"domain":["Control","Circ264","siCirc-1","siCirc-2","mir1245","anti1245","Circ+mir1245"],"range":["#ffffff","#efe5ca","#fbdcdc","#ef7c22","#d2e7c6","#c8dcee","#2a92aa"]},"legend":null}}},
        {"transform":[{"filter":"datum.hi > datum.v"}],"mark":{"type":"rule","color":"#444","strokeWidth":2},"encoding":{"y2":{"field":"hi"}}},
        {"transform":[{"filter":"datum.hi > datum.v"}],"mark":{"type":"tick","color":"#444","size":21,"thickness":2},"encoding":{"y":{"field":"hi","type":"quantitative"}}},
        {"mark":{"type":"text","baseline":"alphabetic","dy":-3,"fontSize":17,"fontWeight":"bold","color":"#3b2f2f"},"encoding":{"y":{"field":"hi","type":"quantitative"},"text":{"field":"sig"}}}
      ]
    },
    {"data":{"values":[{"t":"95-D cell lines"}]},"mark":{"type":"text","fontSize":29,"baseline":"middle","dx":6,"dy":4,"color":"#111"},
     "encoding":{"x":{"datum":"siCirc-2","type":"nominal"},"y":{"datum":4,"type":"quantitative"},"text":{"field":"t"}}},
    {"data":{"values":[{"t":"h"}]},"mark":{"type":"text","fontSize":52,"fontWeight":"bold","align":"left","baseline":"alphabetic","dx":-106,"dy":-23,"color":"#000"},
     "encoding":{"x":{"datum":"Control","type":"nominal"},"y":{"datum":4,"type":"quantitative"},"text":{"field":"t"}}},
    {"data":{"values":[{"t":"i"}]},"mark":{"type":"text","fontSize":52,"fontWeight":"bold","align":"left","baseline":"alphabetic","dx":539,"dy":-23,"color":"#000"},
     "encoding":{"x":{"datum":"Control","type":"nominal"},"y":{"datum":4,"type":"quantitative"},"text":{"field":"t"}}}
  ]
},
{
  "data": {"name":"i"},
  "encoding": {
    "x":{"field":"g","type":"nominal","scale":{"domain":["Control","Circ264","siCirc-1","siCirc-2","mir1245","anti1245","Circ+mir1245"],"range":[785,1254],"paddingInner":0.296,"paddingOuter":0.158},
         "axis":{"orient":"bottom","offset":-123,"title":null,"labelAngle":-40,"labelAlign":"right","labelBaseline":"top","labelFontSize":23,"labelPadding":2,"labelOverlap":false,"labelLimit":400,"tickSize":8,"tickWidth":2,"tickColor":"#555","domainColor":"#555","domainWidth":2.5,"labelColor":"#222"}}
  },
  "resolve": {"scale": {"y":"independent"}, "axis": {"y":"independent"}},
  "layer": [
    {
      "encoding": {
        "y":{"field":"v","type":"quantitative","scale":{"domain":[10,15],"range":[2136,2047],"nice":false,"zero":false,"clamp":true},
             "axis":{"orient":"left","offset":-785,"title":null,"minExtent":30,"maxExtent":30,"values":[10,11,12,13,14,15],"format":"d","labelFontSize":15,"labelFontWeight":"bold","labelPadding":3,"tickSize":6,"tickWidth":1.5,"tickColor":"#444","domainColor":"#444","domainWidth":1.5}}
      },
      "layer": [
        {"transform":[{"filter":"datum.v > 10"}],"mark":{"type":"bar","stroke":"#3f3f3f","strokeWidth":2},"encoding":{"fill":{"field":"g","type":"nominal","scale":{"domain":["Control","Circ264","siCirc-1","siCirc-2","mir1245","anti1245","Circ+mir1245"],"range":["#ffffff","#efe5ca","#fbdcdc","#ef7c22","#d2e7c6","#c8dcee","#2a92aa"]},"legend":null}}},
        {"transform":[{"filter":"datum.v > 10"}],"mark":{"type":"rule","color":"#444","strokeWidth":2},"encoding":{"y2":{"field":"hi"}}},
        {"transform":[{"filter":"datum.v > 10"}],"mark":{"type":"tick","color":"#444","size":21,"thickness":2},"encoding":{"y":{"field":"hi","type":"quantitative"}}},
        {"transform":[{"filter":"datum.v > 10"}],"mark":{"type":"text","baseline":"alphabetic","dy":-3,"fontSize":15,"fontWeight":"bold","color":"#3b2f2f"},"encoding":{"y":{"field":"hi","type":"quantitative"},"text":{"field":"sig"}}}
      ]
    },
    {
      "encoding": {
        "y":{"field":"v","type":"quantitative","scale":{"domain":[4,6],"range":[2247,2158],"nice":false,"zero":false,"clamp":true},
             "axis":{"orient":"left","offset":-785,"title":["Relative expression","of hsa_miR-1245"],"titleFontSize":29,"titleFontWeight":"normal","titleLineHeight":37,"titlePadding":18,"minExtent":30,"maxExtent":30,"values":[4,4.5,5,5.5,6],"format":".1f","labelFontSize":15,"labelFontWeight":"bold","labelPadding":3,"tickSize":6,"tickWidth":1.5,"tickColor":"#444","domainColor":"#444","domainWidth":1.5}}
      },
      "layer": [
        {"transform":[{"filter":"datum.v > 4"}],"mark":{"type":"bar","stroke":"#3f3f3f","strokeWidth":2},"encoding":{"fill":{"field":"g","type":"nominal","scale":{"domain":["Control","Circ264","siCirc-1","siCirc-2","mir1245","anti1245","Circ+mir1245"],"range":["#ffffff","#efe5ca","#fbdcdc","#ef7c22","#d2e7c6","#c8dcee","#2a92aa"]},"legend":null}}},
        {"transform":[{"filter":"datum.v > 4 && datum.v <= 6"}],"mark":{"type":"rule","color":"#444","strokeWidth":2},"encoding":{"y2":{"field":"hi"}}},
        {"transform":[{"filter":"datum.v > 4 && datum.v <= 6"}],"mark":{"type":"tick","color":"#444","size":21,"thickness":2},"encoding":{"y":{"field":"hi","type":"quantitative"}}},
        {"transform":[{"filter":"datum.v > 4 && datum.v <= 6"}],"mark":{"type":"text","baseline":"alphabetic","dy":-3,"fontSize":15,"fontWeight":"bold","color":"#3b2f2f"},"encoding":{"y":{"field":"hi","type":"quantitative"},"text":{"field":"sig"}}}
      ]
    },
    {
      "encoding": {
        "y":{"field":"v","type":"quantitative","scale":{"domain":[0,1.5],"range":[2358,2271],"nice":false,"clamp":true},
             "axis":{"orient":"left","offset":-785,"title":null,"minExtent":30,"maxExtent":30,"values":[0,0.5,1,1.5],"format":".1f","labelFontSize":15,"labelFontWeight":"bold","labelPadding":3,"tickSize":6,"tickWidth":1.5,"tickColor":"#444","domainColor":"#444","domainWidth":1.5}}
      },
      "layer": [
        {"mark":{"type":"bar","stroke":"#3f3f3f","strokeWidth":2},"encoding":{"fill":{"field":"g","type":"nominal","scale":{"domain":["Control","Circ264","siCirc-1","siCirc-2","mir1245","anti1245","Circ+mir1245"],"range":["#ffffff","#efe5ca","#fbdcdc","#ef7c22","#d2e7c6","#c8dcee","#2a92aa"]},"legend":null}}},
        {"transform":[{"filter":"datum.v <= 1.5 && datum.hi > datum.v"}],"mark":{"type":"rule","color":"#444","strokeWidth":2},"encoding":{"y2":{"field":"hi"}}},
        {"transform":[{"filter":"datum.v <= 1.5 && datum.hi > datum.v"}],"mark":{"type":"tick","color":"#444","size":21,"thickness":2},"encoding":{"y":{"field":"hi","type":"quantitative"}}},
        {"transform":[{"filter":"datum.v <= 1.5"}],"mark":{"type":"text","baseline":"alphabetic","dy":-3,"fontSize":15,"fontWeight":"bold","color":"#3b2f2f"},"encoding":{"y":{"field":"hi","type":"quantitative"},"text":{"field":"sig"}}}
      ]
    }
  ]
},
{
  "layer": [
    {
      "data": {"name":"j"},
      "encoding": {
        "x":{"field":"g","type":"nominal","scale":{"domain":["Control","Circ264","siCirc-1","siCirc-2","mir1245","anti1245","Circ+mir1245"],"range":[1422,1876],"paddingInner":0.29,"paddingOuter":0.153},
             "axis":{"orient":"bottom","offset":-120,"title":null,"labelAngle":-40,"labelAlign":"right","labelBaseline":"top","labelFontSize":23,"labelPadding":1,"labelOverlap":false,"labelLimit":400,"tickSize":8,"tickWidth":2,"tickColor":"#555","domainColor":"#555","domainWidth":2.5,"labelColor":"#222"}},
        "y":{"field":"v","type":"quantitative","scale":{"domain":[0,2.5],"range":[2361,2059],"nice":false},
             "axis":{"orient":"left","offset":-1422,"title":["Relative expression","of BRCA2 mRNA"],"titleFontSize":29,"titleFontWeight":"normal","titleLineHeight":37,"titlePadding":22,"minExtent":40,"maxExtent":40,"values":[0,0.5,1,1.5,2,2.5],"format":".1f","labelFontSize":20,"labelFontWeight":"bold","labelPadding":3,"tickSize":7,"tickWidth":1.5,"tickColor":"#444","domainColor":"#444","domainWidth":1.5}}
      },
      "layer": [
        {"mark":{"type":"bar","stroke":"#3f3f3f","strokeWidth":2},"encoding":{"fill":{"field":"g","type":"nominal","scale":{"domain":["Control","Circ264","siCirc-1","siCirc-2","mir1245","anti1245","Circ+mir1245"],"range":["#ffffff","#efe5ca","#fbdcdc","#ef7c22","#d2e7c6","#c8dcee","#2a92aa"]},"legend":null}}},
        {"transform":[{"filter":"datum.hi > datum.v"}],"mark":{"type":"rule","color":"#444","strokeWidth":2},"encoding":{"y2":{"field":"hi"}}},
        {"transform":[{"filter":"datum.hi > datum.v"}],"mark":{"type":"tick","color":"#444","size":21,"thickness":2},"encoding":{"y":{"field":"hi","type":"quantitative"}}},
        {"mark":{"type":"text","baseline":"alphabetic","dy":-3,"fontSize":16,"fontWeight":"bold","color":"#3b2f2f"},"encoding":{"y":{"field":"hi","type":"quantitative"},"text":{"field":"sig"}}}
      ]
    },
    {"data":{"values":[{"t":"j"}]},"mark":{"type":"text","fontSize":52,"fontWeight":"bold","align":"left","baseline":"alphabetic","dx":-154,"dy":-39,"color":"#000"},
     "encoding":{"x":{"datum":"Control","type":"nominal"},"y":{"datum":2.5,"type":"quantitative"},"text":{"field":"t"}}}
  ]
}
]
}
